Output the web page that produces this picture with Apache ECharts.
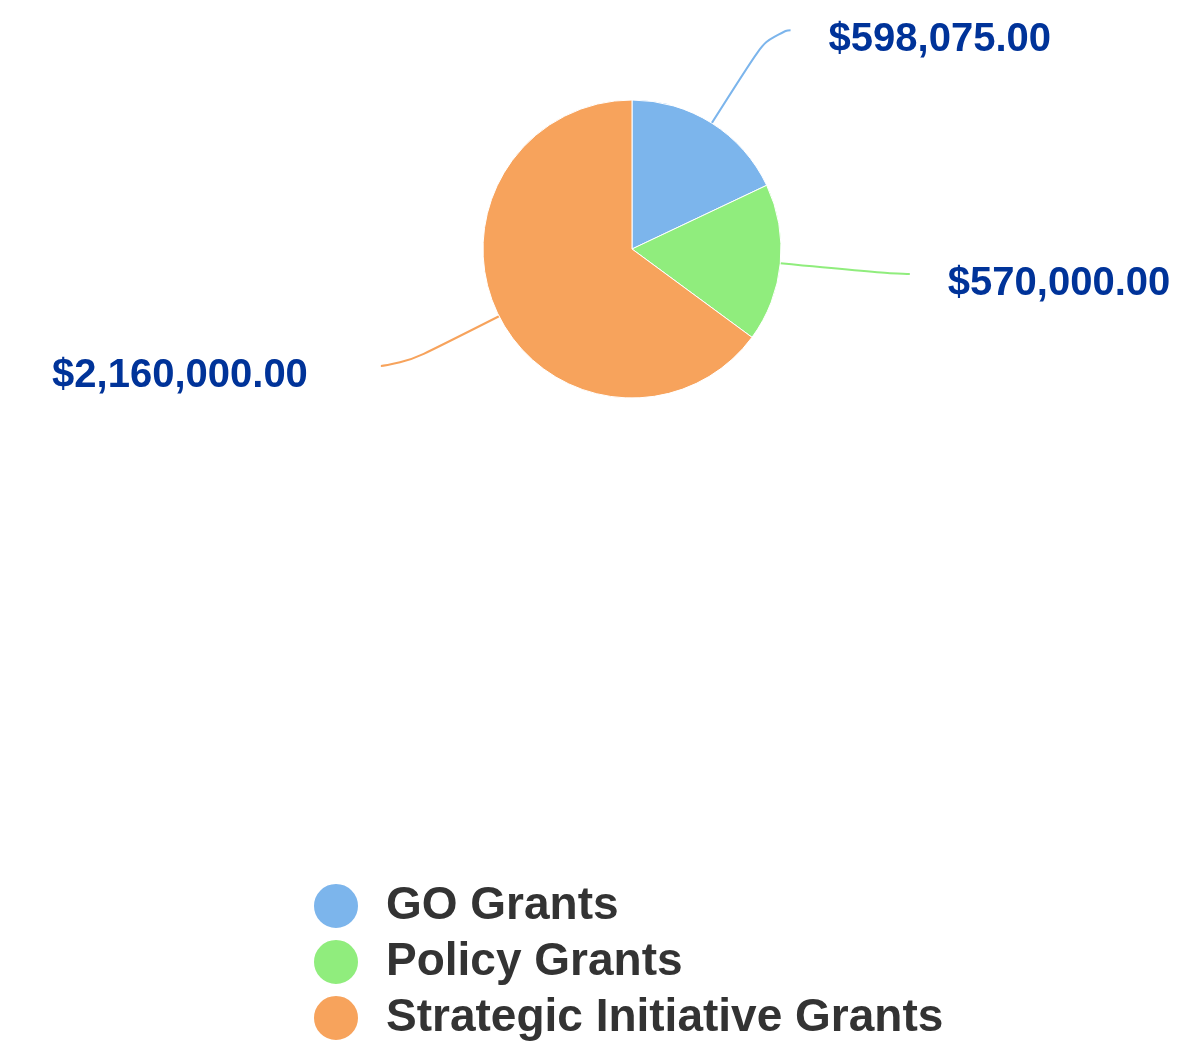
<!DOCTYPE html>
<html>
<head>
<meta charset="utf-8">
<script src="https://cdn.jsdelivr.net/npm/echarts@6/dist/echarts.min.js"></script>
<style>
  html, body { margin: 0; padding: 0; background: #fff; }
  #chart { width: 1204px; height: 1044px; }
</style>
</head>
<body>
<div id="chart"></div>
<script>
// Grant categories and their funded amounts
const categories = ['GO Grants', 'Policy Grants', 'Strategic Initiative Grants'];
const amounts = [598075, 570000, 2160000];
const colors = ['#7cb5ec', '#90ed7d', '#f7a35c'];

const money = v => '$' + v.toLocaleString('en-US', { minimumFractionDigits: 2, maximumFractionDigits: 2 });

// Gap between the connector end and the label text, per slice
const labelGap = [38, 38, 73];

const chart = echarts.init(document.getElementById('chart'), null, { renderer: 'canvas' });

chart.setOption({
  animation: false,
  color: colors,
  legend: {
    orient: 'vertical',
    left: 312,
    top: 882,
    height: 200,
    padding: 0,
    icon: 'circle',
    itemWidth: 46,
    itemHeight: 46,
    itemGap: 8,
    textStyle: {
      fontFamily: '"Liberation Sans", Arial, sans-serif',
      fontWeight: 'bold',
      fontSize: 46,
      lineHeight: 46,
      color: '#333333',
      padding: [0, 0, 0, 22]
    },
    data: categories
  },
  series: [{
    type: 'pie',
    center: [632, 249],
    radius: 149,
    startAngle: 90,
    clockwise: true,
    avoidLabelOverlap: false,
    itemStyle: { borderColor: '#ffffff', borderWidth: 1 },
    label: {
      show: true,
      formatter: p => '{v|' + money(p.value) + '}',
      rich: {
        v: {
          fontFamily: '"Liberation Sans", Arial, sans-serif',
          fontWeight: 'bold',
          fontSize: 40,
          color: '#003399',
          padding: [20, 0, 0, 0]
        }
      }
    },
    labelLine: {
      show: true,
      length: 110,
      length2: 20,
      smooth: 0.8,
      lineStyle: { width: 2 }
    },
    emphasis: { disabled: true },
    data: categories.map((name, i) => ({
      name: name,
      value: amounts[i],
      label: { distanceToLabelLine: labelGap[i] }
    }))
  }]
});
</script>
</body>
</html>
